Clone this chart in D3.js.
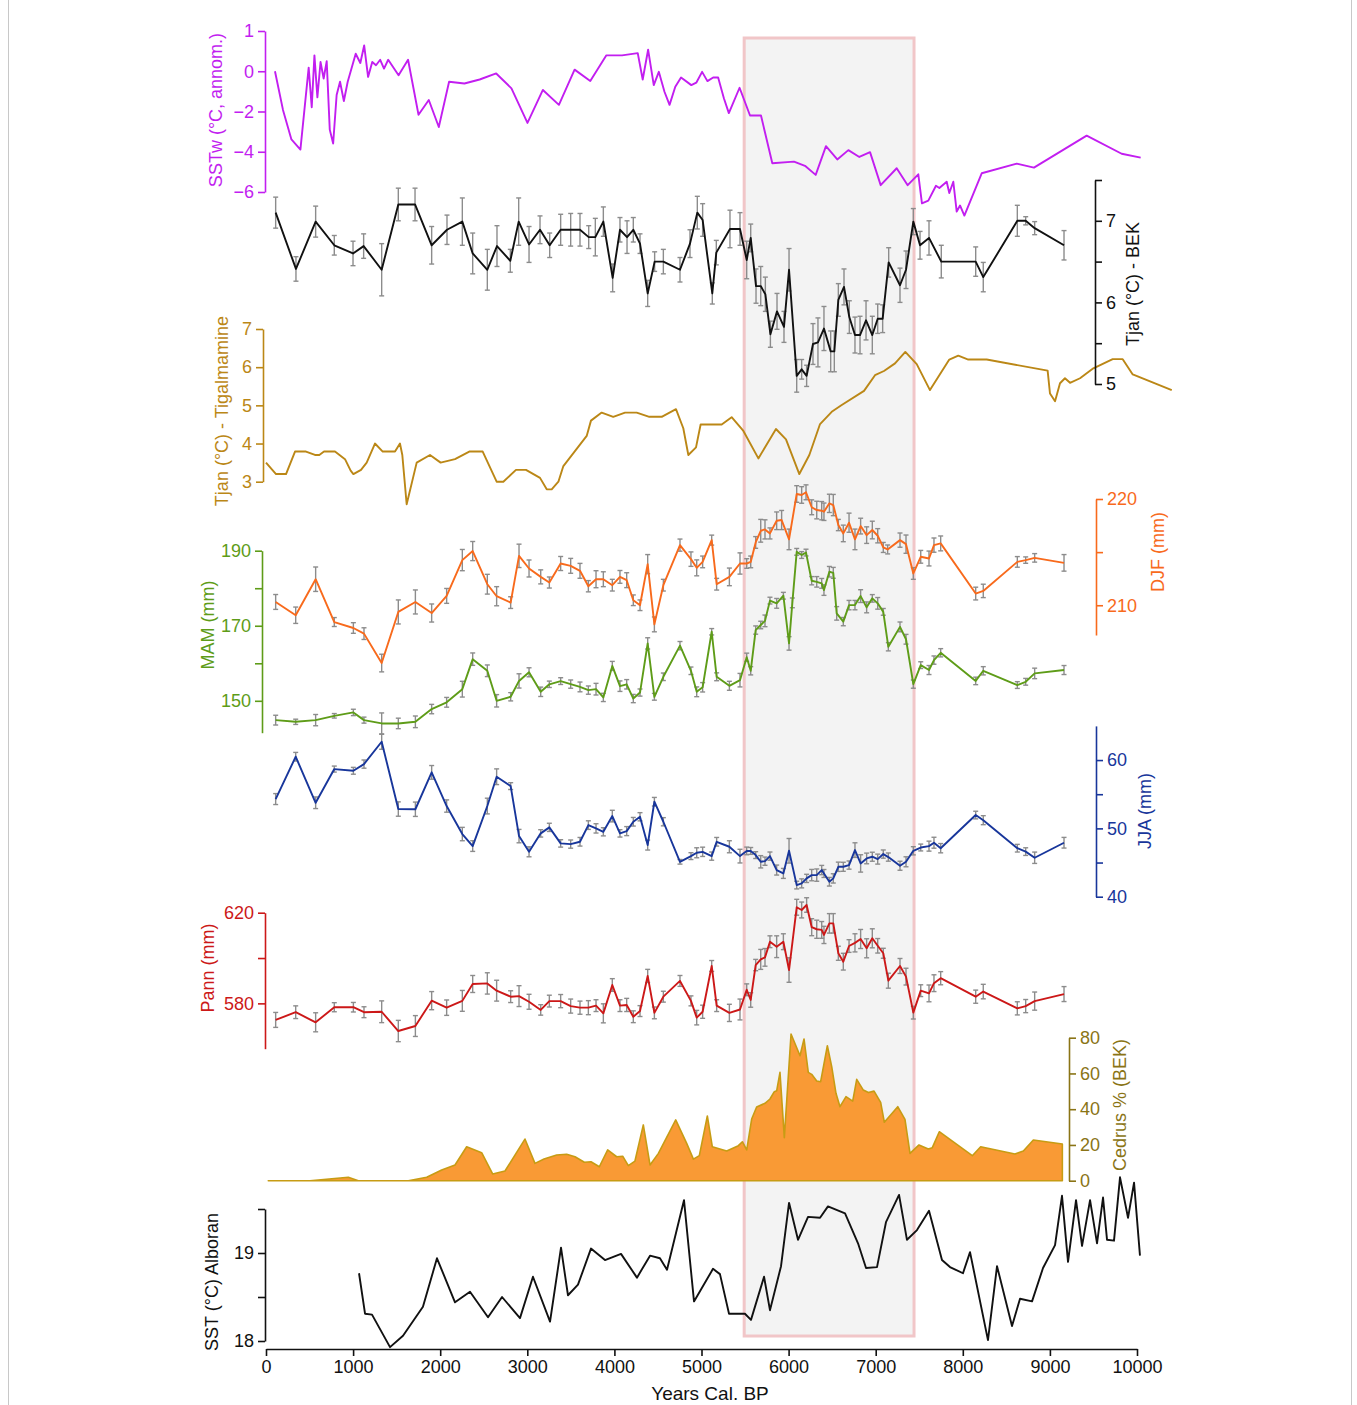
<!DOCTYPE html>
<html>
<head>
<meta charset="utf-8">
<script src="https://cdn.jsdelivr.net/npm/d3@7"></script>
<style>
  body { margin: 0; background: #fff; }
  text { font-family: "Liberation Sans", Arial, sans-serif; }
</style>
</head>
<body>
<div id="chart"></div>
<script>
// ---- data: [age (yr cal BP), value, error] ----
var sstw = [[103,0],[195,-1.92],[292,-3.39],[395,-3.89],[490,0.18],[525,-1.79],[556,0.79],[590,-1.3],[626,0.46],[662,-0.36],[697,0.5],[732,-2.9],[771,-3.59],[811,-1.18],[850,-0.52],[894,-1.48],[938,-0.52],[1030,0.87],[1083,0.41],[1127,1.28],[1172,-0.28],[1220,0.46],[1263,0.3],[1311,0.57],[1355,0.13],[1403,0.57],[1522,-0.2],[1631,0.57],[1751,-2.16],[1869,-1.43],[1984,-2.77],[2102,-0.52],[2278,-0.61],[2453,-0.41],[2643,-0.11],[2818,-0.85],[3002,-2.57],[3179,-0.93],[3363,-1.67],[3543,0.08],[3723,-0.48],[3908,0.79],[4088,0.79],[4268,0.9],[4325,-0.41],[4387,1.07],[4452,-0.69],[4510,-0.03],[4575,-1.02],[4633,-1.67],[4699,-0.77],[4765,-0.31],[4883,-0.69],[4940,-0.57],[5007,-0.03],[5068,-0.49],[5134,-0.31],[5191,-0.31],[5257,-1.34],[5314,-2.08],[5437,-0.82],[5557,-2.2],[5683,-2.2],[5813,-4.57],[6062,-4.49],[6188,-4.7],[6311,-5.15],[6429,-3.72],[6559,-4.38],[6686,-3.92],[6812,-4.26],[6935,-4.02],[7057,-5.66],[7241,-4.82],[7367,-5.66],[7489,-5.12],[7531,-6.56],[7604,-6.43],[7692,-5.69],[7731,-5.8],[7815,-5.49],[7845,-6.05],[7891,-5.49],[7930,-6.97],[7968,-6.67],[8018,-7.17],[8217,-5.07],[8619,-4.59],[8817,-4.79],[9422,-3.2],[9824,-4.1],[10042,-4.29]];

var bekTjan = [[111,7.1,0.19],[344,6.41,0.15],[570,6.99,0.19],[784,6.7,0.12],[999,6.6,0.15],[1121,6.69,0.15],[1328,6.4,0.32],[1519,7.2,0.2],[1711,7.2,0.2],[1902,6.7,0.23],[2078,6.89,0.18],[2254,6.99,0.29],[2373,6.6,0.25],[2541,6.4,0.25],[2652,6.69,0.25],[2805,6.51,0.14],[2901,6.99,0.29],[3020,6.71,0.22],[3146,6.89,0.17],[3257,6.7,0.15],[3383,6.89,0.19],[3498,6.89,0.2],[3605,6.89,0.2],[3705,6.8,0.14],[3781,6.8,0.23],[3873,6.99,0.18],[3980,6.3,0.17],[4064,6.89,0.15],[4145,6.8,0.2],[4217,6.89,0.15],[4294,6.72,0.12],[4382,6.11,0.16],[4462,6.5,0.12],[4562,6.5,0.15],[4753,6.4,0.15],[4868,6.72,0.17],[4952,7.1,0.2],[5013,7.01,0.2],[5124,6.11,0.13],[5170,6.61,0.15],[5327,6.9,0.23],[5442,6.9,0.2],[5519,6.52,0.23],[5565,6.79,0.17],[5626,6.2,0.21],[5680,6.2,0.24],[5733,6.1,0.21],[5791,5.61,0.16],[5867,5.89,0.22],[5947,5.7,0.19],[6005,6.4,0.26],[6093,5.1,0.2],[6150,5.18,0.12],[6207,5.1,0.13],[6280,5.49,0.25],[6337,5.51,0.3],[6406,5.68,0.27],[6483,5.4,0.25],[6525,5.4,0.25],[6571,6.03,0.2],[6636,6.19,0.22],[6697,5.82,0.2],[6762,5.6,0.22],[6820,5.6,0.23],[6889,5.78,0.24],[6961,5.6,0.23],[7023,5.8,0.18],[7080,5.8,0.17],[7149,6.49,0.18],[7279,6.21,0.21],[7348,6.4,0.23],[7432,6.99,0.16],[7509,6.7,0.17],[7612,6.79,0.21],[7753,6.5,0.2],[8148,6.5,0.18],[8235,6.31,0.18],[8626,7.0,0.19],[8722,7.0,0.05],[8825,6.91,0.08],[9162,6.7,0.18]];

var tigTjan = [[0,3.5],[115,3.2],[230,3.2],[333,3.79],[459,3.79],[562,3.7],[612,3.7],[666,3.79],[792,3.79],[907,3.59],[972,3.29],[1003,3.2],[1091,3.31],[1156,3.5],[1251,4.0],[1340,3.79],[1481,3.79],[1538,4.0],[1565,3.7],[1615,2.41],[1730,3.5],[1883,3.7],[2005,3.5],[2170,3.59],[2334,3.79],[2488,3.79],[2648,3.0],[2725,3.0],[2870,3.31],[2985,3.31],[3146,3.1],[3223,2.8],[3280,2.8],[3357,3.0],[3414,3.41],[3682,4.2],[3731,4.6],[3854,4.81],[3987,4.7],[4122,4.81],[4256,4.81],[4401,4.7],[4543,4.7],[4707,4.9],[4791,4.4],[4849,3.7],[4937,3.9],[4990,4.5],[5232,4.5],[5346,4.69],[5481,4.33],[5653,3.61],[5855,4.38],[5970,4.11],[6123,3.2],[6238,3.7],[6361,4.51],[6495,4.83],[6610,5.01],[6866,5.38],[6992,5.79],[7095,5.9],[7222,6.1],[7340,6.4],[7471,6.08],[7623,5.4],[7845,6.2],[7948,6.3],[8063,6.2],[8274,6.2],[8974,5.91],[9001,5.31],[9059,5.11],[9116,5.58],[9173,5.71],[9231,5.59],[9346,5.71],[9499,5.97],[9721,6.21],[9836,6.21],[9951,5.81],[10399,5.4]];

var djf = [[111,210.31,0.7],[341,209.06,0.77],[570,212.45,1.15],[784,208.42,0.42],[1003,207.86,0.5],[1125,207.33,0.55],[1328,204.56,0.83],[1519,209.37,1.13],[1715,210.31,1.13],[1902,209.27,0.85],[2074,210.88,0.7],[2254,214.25,1.0],[2373,215.1,0.9],[2541,211.98,0.93],[2648,210.85,0.9],[2809,210.25,0.55],[2905,214.65,1.1],[3020,213.46,0.8],[3154,212.67,0.66],[3253,212.14,0.52],[3383,213.93,0.66],[3498,213.71,0.7],[3605,213.24,0.7],[3701,211.79,0.53],[3789,212.45,0.8],[3873,212.45,0.7],[3976,211.89,0.55],[4064,212.67,0.6],[4141,212.36,0.7],[4217,210.47,0.5],[4294,210.0,0.5],[4382,213.87,0.9],[4459,208.2,0.7],[4562,211.89,0.55],[4753,215.66,0.57],[4879,214.34,0.68],[4945,213.52,0.75],[5013,214.08,0.55],[5117,216.13,0.47],[5174,211.98,0.55],[5320,212.67,0.83],[5442,213.93,1.0],[5519,213.93,0.45],[5565,214.08,0.55],[5622,215.91,0.55],[5680,217.01,1.07],[5729,217.14,0.9],[5786,216.76,0.52],[5863,217.95,0.83],[5920,218.02,0.9],[6005,216.2,0.97],[6093,220.47,0.78],[6150,220.38,0.78],[6200,220.63,0.7],[6265,219.22,0.7],[6323,218.96,0.83],[6380,218.9,0.86],[6406,218.8,0.82],[6468,219.59,0.86],[6513,219.43,1.0],[6571,217.55,0.53],[6628,216.76,0.78],[6694,217.77,0.9],[6762,216.2,0.97],[6827,217.45,0.74],[6896,216.6,0.78],[6961,217.08,0.83],[7023,216.54,0.67],[7087,215.44,0.47],[7137,215.25,0.42],[7279,216.13,0.67],[7348,215.75,0.86],[7432,212.99,0.55],[7517,214.56,0.6],[7612,214.4,0.7],[7669,215.66,0.67],[7746,215.82,0.7],[8148,211.1,0.6],[8235,211.35,0.63],[8626,214.08,0.5],[8722,214.25,0.3],[8825,214.46,0.4],[9162,213.99,0.78]];

var mam = [[111,144.85,1.3],[341,144.4,0.7],[570,144.85,1.5],[784,146.0,0.6],[1003,146.9,0.85],[1125,144.85,0.8],[1328,143.97,2.8],[1519,143.97,1.4],[1715,144.4,1.55],[1902,147.8,1.25],[2074,149.6,1.3],[2254,153.1,2.1],[2373,161.1,1.65],[2541,158.0,1.55],[2648,150.0,1.65],[2809,151.07,1.1],[2905,155.3,1.9],[3020,157.6,1.2],[3154,152.4,1.25],[3253,154.4,0.85],[3383,155.25,0.9],[3498,154.45,1.1],[3605,153.7,1.3],[3701,152.85,1.1],[3789,153.1,1.55],[3873,150.9,1.1],[3976,159.3,1.2],[4064,153.9,1.4],[4141,154.4,1.25],[4217,150.6,1.1],[4294,152.2,0.95],[4382,165.3,1.5],[4459,151.07,0.9],[4562,156.4,1.0],[4753,164.7,1.1],[4879,158.0,1.0],[4945,152.4,1.3],[5013,153.6,1.25],[5117,168.4,0.85],[5174,156.4,1.05],[5320,154.0,1.2],[5442,155.5,1.8],[5519,161.6,1.1],[5565,158.0,1.1],[5622,168.85,1.1],[5680,170.2,1.0],[5729,171.3,1.55],[5786,176.7,0.9],[5863,175.97,1.3],[5940,178.0,0.9],[6005,165.3,1.8],[6043,176.1,1.3],[6093,189.7,0.9],[6150,188.85,0.9],[6200,189.5,0.9],[6265,182.0,1.1],[6323,181.7,1.4],[6380,181.3,1.3],[6406,179.5,1.4],[6468,184.4,1.4],[6513,184.1,1.45],[6552,173.3,1.8],[6628,171.1,1.1],[6694,175.5,1.25],[6762,175.5,1.25],[6827,177.9,1.7],[6896,174.9,1.45],[6961,177.3,1.0],[7023,175.97,1.55],[7087,173.7,0.9],[7145,164.4,1.1],[7279,169.7,1.3],[7348,166.4,1.3],[7432,154.45,1.1],[7517,159.5,0.9],[7612,158.2,1.2],[7669,160.85,1.1],[7746,162.8,1.1],[8148,155.3,1.0],[8235,158.0,1.1],[8626,154.2,0.9],[8722,155.07,0.9],[8825,157.3,1.4],[9162,158.2,1.2]];

var jja = [[111,54.29,0.8],[341,60.49,0.63],[570,53.75,0.85],[784,58.68,0.44],[1003,58.43,0.5],[1125,59.41,0.6],[1328,62.68,1.1],[1519,52.83,1.05],[1715,52.8,1.05],[1902,58.2,1.0],[2074,53.27,0.9],[2254,49.17,0.98],[2373,47.41,0.78],[2541,53.27,1.15],[2648,57.56,1.15],[2809,56.19,0.5],[2905,48.87,0.98],[3020,46.57,0.73],[3154,49.27,0.54],[3253,50.15,0.6],[3383,47.8,0.54],[3498,47.7,0.6],[3605,48.04,0.63],[3701,50.48,0.63],[3789,50.0,0.68],[3873,49.5,0.6],[3976,51.8,0.85],[4064,49.27,0.54],[4141,49.6,0.66],[4217,50.97,0.63],[4294,51.7,0.6],[4382,47.56,0.73],[4459,53.9,0.63],[4562,50.97,0.6],[4753,45.11,0.34],[4879,45.94,0.5],[4945,46.43,0.73],[5013,46.57,0.68],[5117,45.94,0.6],[5174,48.04,0.63],[5320,47.31,0.88],[5442,45.94,1.0],[5519,46.7,0.56],[5565,46.7,0.5],[5622,46.09,0.5],[5680,45.11,0.9],[5729,45.2,0.6],[5786,45.94,0.6],[5863,43.9,0.73],[5940,43.41,0.73],[6005,46.72,1.8],[6093,41.7,0.56],[6150,41.95,0.66],[6207,42.68,0.6],[6265,43.16,0.83],[6323,43.16,0.9],[6380,43.9,0.68],[6406,43.4,0.58],[6468,42.19,0.63],[6513,42.68,0.68],[6571,44.38,0.68],[6628,44.38,0.66],[6694,44.63,0.6],[6762,46.82,1.07],[6827,44.87,1.27],[6896,45.6,0.78],[6961,45.85,0.66],[7023,45.5,0.73],[7087,46.24,0.6],[7145,45.8,0.6],[7279,44.53,0.66],[7348,45.11,0.73],[7432,46.72,0.6],[7517,47.2,0.5],[7612,47.4,0.73],[7669,47.9,0.8],[7746,47.1,0.68],[8148,51.95,0.56],[8235,51.2,0.66],[8626,47.1,0.56],[8722,46.6,0.56],[8825,45.7,0.83],[9162,47.9,0.78]];

var pann = [[111,572.7,3.3],[341,576.1,2.8],[570,571.65,4.2],[784,578.3,2.0],[1003,578.3,2.1],[1125,576.1,2.4],[1328,576.3,4.8],[1519,567.8,4.7],[1715,570.0,4.6],[1902,581.2,4.0],[2074,578.1,3.4],[2254,581.1,4.6],[2373,588.55,3.75],[2541,588.8,4.7],[2648,585.6,4.6],[2809,582.95,2.6],[2905,583.2,4.6],[3020,580.7,3.3],[3154,577.1,2.3],[3253,581,2.6],[3383,581,2.9],[3498,578.8,3.1],[3605,578.1,2.9],[3701,578.1,3.1],[3789,579,2.6],[3873,575.6,4.2],[3976,588.1,2.8],[4064,579,2.6],[4141,579.3,2.9],[4217,574.1,2.6],[4294,576.6,2.4],[4382,592.1,2.9],[4459,575.8,2.6],[4562,582.95,2.4],[4753,589.9,2.4],[4879,581.1,2.2],[4945,573.7,3.2],[5013,576.3,2.9],[5117,596.5,2.4],[5174,579,2.6],[5320,575.8,3.8],[5442,577.3,4.6],[5519,586.0,2.6],[5565,581.5,3.2],[5622,596.9,2.5],[5680,599.4,4.4],[5729,600.3,3.9],[5786,607.2,2.6],[5863,605,4.8],[5940,607.2,3.5],[6005,594.7,5.4],[6093,622.4,3.5],[6150,621.2,3.5],[6207,623.4,3.2],[6265,613.6,3.75],[6323,612.7,4.0],[6380,612.4,3.7],[6406,610.2,3.8],[6468,615.3,4.3],[6513,615.3,4.3],[6571,602.1,3.1],[6628,598.4,3.7],[6694,605.3,2.8],[6762,606.7,4.0],[6827,608.4,4.2],[6896,604.3,4.2],[6961,608.7,4.2],[7023,605.4,3.2],[7087,602.1,2.2],[7145,590.0,3.3],[7279,596.5,3.3],[7348,591.8,3.7],[7432,575.9,2.8],[7517,585.6,2.6],[7612,584.4,3.7],[7669,588.9,3.7],[7746,591.1,2.9],[8148,582.95,2.9],[8235,585.2,3.2],[8626,577.8,2.9],[8722,578.8,2.9],[8825,581,4.0],[9162,584.1,3.3]];

var cedrus = [[26,0],[505,0],[945,1.9],[1060,0],[1634,0],[1845,1.9],[2017,6.0],[2170,8.8],[2304,19.0],[2476,15.7],[2602,3.8],[2744,5.4],[2973,23.3],[3088,9.7],[3192,12.1],[3337,14.4],[3452,14.8],[3548,13.4],[3655,10.3],[3731,10.6],[3827,7.8],[3923,17.2],[4026,13.4],[4095,13.7],[4160,8.4],[4236,11.0],[4332,31.2],[4409,8.8],[4505,15.3],[4704,34.0],[4830,20.9],[4907,12.1],[4975,14.0],[5067,36.2],[5124,19.0],[5289,16.6],[5423,19.6],[5469,21.8],[5519,17.2],[5576,34.5],[5633,41.2],[5729,43.3],[5786,45.7],[5836,49.8],[5863,50.3],[5901,60.6],[5951,24.1],[6028,82.1],[6131,69.9],[6177,79.3],[6226,60.6],[6265,59.5],[6323,55.8],[6368,55.4],[6445,75.5],[6495,63.8],[6544,48.9],[6590,41.4],[6659,47],[6736,44.5],[6782,56.7],[6858,50.7],[6916,49.3],[6981,50.1],[7057,43.8],[7099,32.7],[7253,41.4],[7336,34.3],[7394,15.3],[7497,20],[7604,17.7],[7650,18.5],[7730,27.4],[8109,14],[8205,19],[8599,14.9],[8695,16.6],[8810,22.8],[9143,20.5]];

var sstAlboran = [[1068,18.77],[1137,18.31],[1217,18.3],[1424,17.93],[1573,18.06],[1802,18.39],[1963,18.94],[2170,18.44],[2342,18.56],[2549,18.27],[2710,18.5],[2916,18.26],[3065,18.73],[3261,18.22],[3387,19.06],[3467,18.52],[3582,18.64],[3731,19.05],[3892,18.92],[4076,18.99],[4259,18.72],[4409,18.97],[4523,18.94],[4604,18.81],[4799,19.6],[4914,18.45],[5132,18.82],[5212,18.76],[5316,18.31],[5499,18.31],[5568,18.24],[5718,18.73],[5786,18.35],[5913,18.85],[6005,19.57],[6108,19.15],[6223,19.41],[6361,19.4],[6452,19.53],[6648,19.45],[6797,19.11],[6889,18.83],[7015,18.84],[7118,19.35],[7268,19.66],[7359,19.15],[7474,19.26],[7612,19.48],[7761,18.92],[7853,18.84],[8002,18.77],[8083,19.01],[8289,18.01],[8393,18.85],[8565,18.17],[8657,18.48],[8795,18.45],[8921,18.83],[9059,19.09],[9139,19.65],[9208,18.9],[9300,19.6],[9369,19.08],[9461,19.6],[9541,19.11],[9610,19.63],[9656,19.15],[9736,19.14],[9805,19.86],[9897,19.4],[9966,19.8],[10034,18.97]];

// shaded interval (yr cal BP)
var highlight = [5490, 7440];

// tick values and labels
var xTicks = [0,1000,2000,3000,4000,5000,6000,7000,8000,9000,10000];
var sstwTicks = [-6,-4,-2,0,2];
var sstwTickLabels = ["\u22126","\u22124","\u22122","0","1"];
var bekTicks = [5,5.5,6,6.5,7,7.5];
var tigTicks = [3,4,5,6,7];
var djfTicks = [210,215,220];
var mamTicks = [150,160,170,180,190];
var jjaTicks = [40,45,50,55,60];
var pannTicks = [580,600,620];
var cedrusTicks = [0,20,40,60,80];
var sstTicks = [18,18.5,19,19.5];

var width = 1357, height = 1405;

var svg = d3.select("#chart").append("svg")
  .attr("width", width)
  .attr("height", height);

svg.append("rect").attr("width", width).attr("height", height).attr("fill", "#fff");
// thin frame
svg.append("rect")
  .attr("x", 8.5).attr("y", -2)
  .attr("width", 1343).attr("height", height + 4)
  .attr("fill", "none").attr("stroke", "#c8c8c8").attr("stroke-width", 1);

var xScale = d3.scaleLinear().domain([0, 10000]).range([266, 1137]);

// y scales, one per record
var ySstw = d3.scaleLinear().domain([-6, 2]).range([192, 31]);
var yBek = d3.scaleLinear().domain([5, 7.5]).range([384, 180]);
var yTig = d3.scaleLinear().domain([3, 7]).range([481.7, 329]);
var yDjf = d3.scaleLinear().domain([207.2, 220]).range([635, 499]);
var yMam = d3.scaleLinear().domain([141.5, 190]).range([732.7, 550.7]);
var yJja = d3.scaleLinear().domain([40, 65]).range([896.7, 725.9]);
var yPann = d3.scaleLinear().domain([560, 620]).range([1048.7, 912.7]);
var yCed = d3.scaleLinear().domain([0, 80]).range([1180.7, 1037.7]);
var ySst = d3.scaleLinear().domain([18, 19.5]).range([1341, 1209]);

// grey highlight box
svg.append("rect")
  .attr("x", xScale(highlight[0]))
  .attr("y", 38)
  .attr("width", xScale(highlight[1]) - xScale(highlight[0]))
  .attr("height", 1336 - 38)
  .attr("fill", "#f3f3f3")
  .attr("stroke", "#f1c6c8")
  .attr("stroke-width", 3);

// draws one vertical axis with its title
function drawAxis(scale, side, xPos, ticks, fmt, color, title, titleX, titleY) {
  var axis = (side === "left" ? d3.axisLeft(scale) : d3.axisRight(scale))
    .tickValues(ticks)
    .tickSize(7)
    .tickSizeOuter(0)
    .tickPadding(4)
    .tickFormat(fmt);
  var g = svg.append("g")
    .attr("transform", "translate(" + xPos + ",0)")
    .call(axis);
  g.select(".domain").attr("stroke", color).attr("stroke-width", 1.6);
  g.selectAll(".tick line").attr("stroke", color).attr("stroke-width", 1.6);
  g.selectAll(".tick text")
    .attr("fill", color)
    .attr("font-size", "18px")
    .attr("font-family", "Liberation Sans, Arial, sans-serif");

  svg.append("text")
    .attr("transform", "translate(" + titleX + "," + titleY + ") rotate(-90)")
    .attr("text-anchor", "middle")
    .attr("dominant-baseline", "central")
    .attr("fill", color)
    .attr("font-size", "18px")
    .text(title);
}

function only(list) {
  return function (d) { return list.indexOf(d) >= 0 ? d3.format("")(d) : ""; };
}

// error bars then line
function drawSeries(data, yScale, color, withErr) {
  if (withErr) {
    var eg = svg.append("g").attr("stroke", "#8c8c8c").attr("stroke-width", 1.4);
    data.forEach(function (d) {
      var x = xScale(d[0]);
      var y1 = yScale(d[1] - d[2]), y2 = yScale(d[1] + d[2]);
      eg.append("line").attr("x1", x).attr("x2", x).attr("y1", y1).attr("y2", y2);
      eg.append("line").attr("x1", x - 2.5).attr("x2", x + 2.5).attr("y1", y1).attr("y2", y1);
      eg.append("line").attr("x1", x - 2.5).attr("x2", x + 2.5).attr("y1", y2).attr("y2", y2);
    });
  }
  var lineGen = d3.line()
    .x(function (d) { return xScale(d[0]); })
    .y(function (d) { return yScale(d[1]); });
  svg.append("path")
    .attr("d", lineGen(data))
    .attr("fill", "none")
    .attr("stroke", color)
    .attr("stroke-width", 1.9)
    .attr("stroke-linejoin", "round");
}

var cSstw = "#c21ef0", cTig = "#bb8716", cDjf = "#f86a1c", cMam = "#5e9c18",
    cJja = "#18369b", cPann = "#cc1818", cCedAxis = "#8a7416";

// Cedrus area
var areaGen = d3.area()
  .x(function (d) { return xScale(d[0]); })
  .y0(yCed(0))
  .y1(function (d) { return yCed(d[1]); });
svg.append("path")
  .attr("d", areaGen(cedrus))
  .attr("fill", "#f99a35")
  .attr("stroke", "#c79c14")
  .attr("stroke-width", 1.6)
  .attr("stroke-linejoin", "round");

drawSeries(tigTjan, yTig, cTig, false);
drawSeries(sstw, ySstw, cSstw, false);
drawSeries(bekTjan, yBek, "#111", true);
drawSeries(djf, yDjf, cDjf, true);
drawSeries(mam, yMam, cMam, true);
drawSeries(jja, yJja, cJja, true);
drawSeries(pann, yPann, cPann, true);
drawSeries(sstAlboran, ySst, "#111", false);

// axes
drawAxis(ySstw, "left", 265, sstwTicks, function (d) { return sstwTickLabels[sstwTicks.indexOf(d)]; },
  cSstw, "SSTw (\u00B0C, annom.)", 216, 110);
drawAxis(yBek, "right", 1095, bekTicks, only([5, 6, 7]), "#111", "Tjan (\u00B0C) - BEK", 1133, 284);
drawAxis(yTig, "left", 263, tigTicks, only(tigTicks), cTig, "Tjan (\u00B0C) - Tigalmamine", 222, 411);
drawAxis(yDjf, "right", 1096, djfTicks, only([210, 220]), cDjf, "DJF (mm)", 1158, 552);
drawAxis(yMam, "left", 262, mamTicks, only([150, 170, 190]), cMam, "MAM (mm)", 208, 625);
drawAxis(yJja, "right", 1096, jjaTicks, only([40, 50, 60]), cJja, "JJA (mm)", 1145, 811);
drawAxis(yPann, "left", 265, pannTicks, only([580, 620]), cPann, "Pann (mm)", 208, 968);
drawAxis(yCed, "right", 1069, cedrusTicks, only(cedrusTicks), cCedAxis, "Cedrus % (BEK)", 1120, 1105);
drawAxis(ySst, "left", 265, sstTicks, only([18, 19]), "#111", "SST (\u00B0C) Alboran", 212, 1282);

// x axis
var xAxis = d3.axisBottom(xScale).tickValues(xTicks).tickSize(7).tickSizeOuter(0).tickPadding(4)
  .tickFormat(d3.format("d"));
var gx = svg.append("g")
  .attr("transform", "translate(0,1349)")
  .call(xAxis);
gx.select(".domain").attr("stroke", "#111").attr("stroke-width", 1.6);
gx.selectAll(".tick line").attr("stroke", "#111").attr("stroke-width", 1.6);
gx.selectAll(".tick text").attr("fill", "#111").attr("font-size", "18px")
  .attr("font-family", "Liberation Sans, Arial, sans-serif");

svg.append("text")
  .attr("x", 710)
  .attr("y", 1400)
  .attr("text-anchor", "middle")
  .attr("font-size", "19px")
  .attr("fill", "#111")
  .text("Years Cal. BP");
</script>
</body>
</html>
